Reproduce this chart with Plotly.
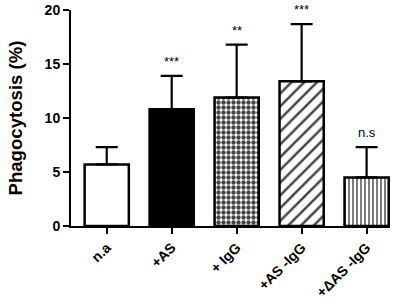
import plotly.graph_objects as go

categories = ["n.a", "+AS", "+ IgG", "+AS -IgG", "+\u0394AS -IgG"]
means = [5.7, 10.8, 11.9, 13.4, 4.5]
err_top = [7.3, 13.9, 16.8, 18.7, 7.3]
sig_labels = ["", "***", "**", "***", "n.s"]

fills = ["white", "black", "white", "white", "white"]
patterns = ["", "", ".", "/", "|"]

fig = go.Figure()
fig.add_trace(go.Bar(
    x=categories,
    y=means,
    width=0.68,
    marker=dict(
        color=fills,
        line=dict(color="black", width=2.5),
        pattern=dict(shape=patterns, fgcolor="black", bgcolor="white", fgopacity=1,
                     size=[8, 8, 5, 9, 4], solidity=[0.3, 0.3, 0.6, 0.28, 0.35],
                     fillmode="overlay"),
    ),
    error_y=dict(type="data", symmetric=False,
                 array=[t - m for t, m in zip(err_top, means)],
                 arrayminus=[0] * len(means),
                 color="black", thickness=2.2, width=11),
    showlegend=False,
    hoverinfo="skip",
))

for c, t, s in zip(categories, err_top, sig_labels):
    if s:
        fig.add_annotation(x=c, y=t, text=s, showarrow=False, yanchor="bottom",
                           yshift=5, font=dict(family="Liberation Sans, Arial", size=13, color="black"))

fig.update_layout(
    width=403, height=308,
    margin=dict(l=71, r=13, t=10, b=82),
    plot_bgcolor="white", paper_bgcolor="white",
    font=dict(family="Liberation Sans, Arial", color="black"),
)
fig.update_xaxes(
    range=[-0.55, 4.36], automargin=False,
    showline=True, linecolor="black", linewidth=2,
    ticks="outside", ticklen=6, tickwidth=2, tickcolor="black",
    tickangle=-45,
    tickfont=dict(family="Liberation Sans, Arial", size=14, color="black", weight="bold"),
    showgrid=False, zeroline=False,
)
fig.update_yaxes(
    range=[0, 20], tickvals=[0, 5, 10, 15, 20], automargin=False,
    showline=True, linecolor="black", linewidth=2,
    ticks="outside", ticklen=6, tickwidth=2, tickcolor="black",
    tickfont=dict(family="Liberation Sans, Arial", size=14, color="black", weight="bold"),
    title=dict(text="Phagocytosis (%)", standoff=17,
               font=dict(family="Liberation Sans, Arial", size=18.6, color="black", weight="bold")),
    showgrid=False, zeroline=False,
)

fig.write_html("out.html", config={"displayModeBar": False},
               post_script="document.body.style.margin='0';")
